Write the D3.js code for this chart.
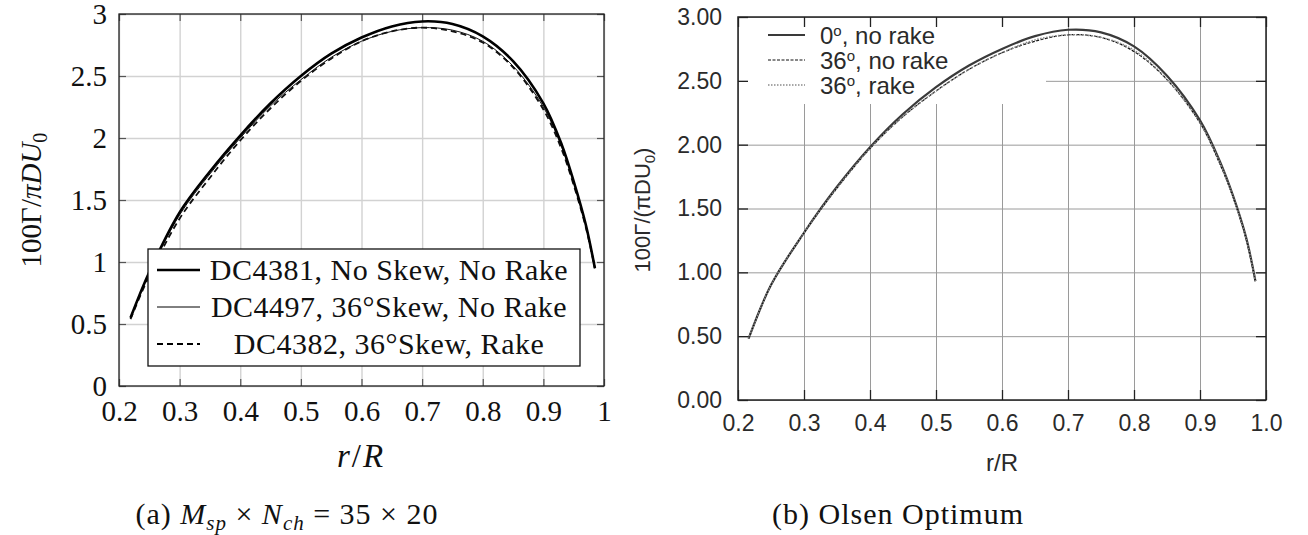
<!DOCTYPE html>
<html>
<head>
<meta charset="utf-8">
<script src="https://cdn.jsdelivr.net/npm/d3@7"></script>
<style>
    body { margin: 0; background: #fff; }
    svg { display: block; }
</style>
</head>
<body>
<svg id="chart" width="1308" height="535"></svg>
<script>
// ---------------- DATA ----------------

// (a) left panel: radial stations and circulation values
const rLeft = [0.219, 0.25, 0.3, 0.35, 0.4, 0.45, 0.5, 0.55, 0.6, 0.65, 0.7, 0.75, 0.8, 0.85, 0.9, 0.93, 0.95, 0.97, 0.985];
const dc4381 = [0.55, 0.92, 1.40, 1.73, 2.02, 2.28, 2.50, 2.68, 2.81, 2.90, 2.94, 2.92, 2.82, 2.62, 2.28, 1.95, 1.65, 1.30, 0.95];
const dc4497 = [0.55, 0.91, 1.38, 1.71, 2.00, 2.26, 2.47, 2.65, 2.78, 2.86, 2.89, 2.87, 2.78, 2.58, 2.25, 1.93, 1.64, 1.30, 0.96];
const dc4382 = [0.54, 0.89, 1.35, 1.68, 1.98, 2.24, 2.46, 2.64, 2.78, 2.86, 2.89, 2.86, 2.77, 2.57, 2.23, 1.91, 1.62, 1.28, 0.95];
const leftNames = ["DC4381, No Skew, No Rake", "DC4497, 36°Skew, No Rake", "DC4382, 36°Skew, Rake"];

// (b) right panel: Olsen optimum
const rRight = [0.216, 0.25, 0.3, 0.35, 0.4, 0.45, 0.5, 0.55, 0.6, 0.65, 0.7, 0.75, 0.8, 0.85, 0.9, 0.93, 0.95, 0.97, 0.984];
const olsen0NoRake = [0.48, 0.90, 1.31, 1.67, 1.98, 2.24, 2.45, 2.62, 2.75, 2.85, 2.90, 2.88, 2.77, 2.54, 2.19, 1.87, 1.60, 1.27, 0.93];
const olsen36NoRake = [0.48, 0.90, 1.31, 1.66, 1.97, 2.22, 2.42, 2.59, 2.72, 2.81, 2.86, 2.84, 2.73, 2.51, 2.17, 1.85, 1.59, 1.26, 0.93];
const olsen36Rake = [0.48, 0.90, 1.31, 1.66, 1.97, 2.22, 2.42, 2.59, 2.72, 2.82, 2.86, 2.84, 2.74, 2.51, 2.17, 1.86, 1.59, 1.26, 0.93];
const rightNames = ["0", "36", "36"];
const rightSuffix = [", no rake", ", no rake", ", rake"];

// tick labels
const xTicks = [0.2, 0.3, 0.4, 0.5, 0.6, 0.7, 0.8, 0.9, 1.0];
const yTicks = [0, 0.5, 1, 1.5, 2, 2.5, 3];
const xTickLabelsLeft = ["0.2", "0.3", "0.4", "0.5", "0.6", "0.7", "0.8", "0.9", "1"];
const yTickLabelsLeft = ["0", "0.5", "1", "1.5", "2", "2.5", "3"];
const xTickLabelsRight = ["0.2", "0.3", "0.4", "0.5", "0.6", "0.7", "0.8", "0.9", "1.0"];
const yTickLabelsRight = ["0.00", "0.50", "1.00", "1.50", "2.00", "2.50", "3.00"];

const svg = d3.select("#chart");
const serif = "'Liberation Serif', 'DejaVu Serif', serif";
const sans = "'Liberation Sans', Arial, sans-serif";

// ---------------- LEFT PANEL (pgfplots style) ----------------
function drawLeft() {
    const x = d3.scaleLinear().domain([0.2, 1]).range([119, 604]);
    const y = d3.scaleLinear().domain([0, 3]).range([386, 14]);
    const g = svg.append("g");
    const h = y(0) - y(3), w = x(1) - x(0.2);

    // grid
    g.append("g").attr("transform", `translate(0,${y(0)})`)
        .call(d3.axisBottom(x).tickValues(xTicks).tickSize(-h).tickFormat(""))
        .call(a => a.select(".domain").remove())
        .selectAll("line").attr("stroke", "#d2d2d2").attr("stroke-width", 1.4);
    g.append("g").attr("transform", `translate(${x(0.2)},0)`)
        .call(d3.axisLeft(y).tickValues(yTicks).tickSize(-w).tickFormat(""))
        .call(a => a.select(".domain").remove())
        .selectAll("line").attr("stroke", "#d2d2d2").attr("stroke-width", 1.4);

    // small inner ticks on all sides
    const tk = 7;
    [[d3.axisBottom(x).tickValues(xTicks).tickSize(-tk), `translate(0,${y(0)})`],
     [d3.axisTop(x).tickValues(xTicks).tickSize(-tk), `translate(0,${y(3)})`],
     [d3.axisLeft(y).tickValues(yTicks).tickSize(-tk), `translate(${x(0.2)},0)`],
     [d3.axisRight(y).tickValues(yTicks).tickSize(-tk), `translate(${x(1)},0)`]].forEach(([ax, tr]) => {
        g.append("g").attr("transform", tr).call(ax.tickFormat(""))
            .call(a => a.select(".domain").remove())
            .selectAll("line").attr("stroke", "#555").attr("stroke-width", 1.2);
    });

    // tick labels
    g.append("g").attr("transform", `translate(0,${y(0)})`)
        .call(d3.axisBottom(x).tickValues(xTicks).tickSize(0).tickPadding(14)
            .tickFormat((d, i) => xTickLabelsLeft[i]))
        .call(a => a.select(".domain").remove())
        .selectAll("text").attr("font-family", serif).attr("font-size", 29).attr("fill", "#111");
    g.append("g").attr("transform", `translate(${x(0.2)},0)`)
        .call(d3.axisLeft(y).tickValues(yTicks).tickSize(0).tickPadding(12)
            .tickFormat((d, i) => yTickLabelsLeft[i]))
        .call(a => a.select(".domain").remove())
        .selectAll("text").attr("font-family", serif).attr("font-size", 29).attr("fill", "#111");

    // curves
    const line = (rs, vs) => d3.line().x((d, i) => x(rs[i])).y(d => y(d))
        .curve(d3.curveCatmullRom.alpha(0.5))(vs);
    g.append("path").attr("d", line(rLeft, dc4382)).attr("fill", "none")
        .attr("stroke", "#111").attr("stroke-width", 1.8).attr("stroke-dasharray", "6,4");
    g.append("path").attr("d", line(rLeft, dc4497)).attr("fill", "none")
        .attr("stroke", "#111").attr("stroke-width", 1);
    g.append("path").attr("d", line(rLeft, dc4381)).attr("fill", "none")
        .attr("stroke", "#000").attr("stroke-width", 2.6);

    // frame
    g.append("rect").attr("x", x(0.2)).attr("y", y(3)).attr("width", w).attr("height", h)
        .attr("fill", "none").attr("stroke", "#222").attr("stroke-width", 1.3);

    // legend
    const lg = g.append("g");
    lg.append("rect").attr("x", 148).attr("y", 249).attr("width", 432).attr("height", 117)
        .attr("fill", "#fff").attr("stroke", "#111").attr("stroke-width", 1.3);
    const styles = [{ sw: 2.6, dash: null }, { sw: 1, dash: null }, { sw: 1.8, dash: "6,4" }];
    leftNames.forEach((name, i) => {
        const yy = 270 + i * 37;
        lg.append("line").attr("x1", 157).attr("x2", 200).attr("y1", yy).attr("y2", yy)
            .attr("stroke", "#000").attr("stroke-width", styles[i].sw)
            .attr("stroke-dasharray", styles[i].dash);
        lg.append("text").attr("x", 389).attr("y", yy + 10).attr("text-anchor", "middle")
            .attr("font-family", serif).attr("font-size", 30).attr("letter-spacing", 0.5)
            .attr("fill", "#111").text(name);
    });

    // axis titles
    const yl = g.append("text").attr("transform", "translate(41,200) rotate(-90)")
        .attr("text-anchor", "middle").attr("font-family", serif).attr("font-size", 29).attr("fill", "#111");
    yl.append("tspan").text("100Γ/");
    yl.append("tspan").attr("font-style", "italic").text("πDU");
    yl.append("tspan").attr("font-size", 20).attr("dy", 6).text("0");

    const xl = g.append("text").attr("x", 361).attr("y", 467).attr("text-anchor", "middle")
        .attr("font-family", serif).attr("font-size", 33).attr("letter-spacing", 2).attr("fill", "#111");
    xl.append("tspan").attr("font-style", "italic").text("r");
    xl.append("tspan").text("/");
    xl.append("tspan").attr("font-style", "italic").text("R");

    // caption
    const cap = g.append("text").attr("x", 287).attr("y", 524).attr("text-anchor", "middle")
        .attr("font-family", serif).attr("font-size", 30).attr("letter-spacing", 1).attr("fill", "#111");
    cap.append("tspan").text("(a) ");
    cap.append("tspan").attr("font-style", "italic").text("M");
    cap.append("tspan").attr("font-style", "italic").attr("font-size", 21).attr("dy", 6).text("sp");
    cap.append("tspan").attr("dy", -6).text(" × ");
    cap.append("tspan").attr("font-style", "italic").text("N");
    cap.append("tspan").attr("font-style", "italic").attr("font-size", 21).attr("dy", 6).text("ch");
    cap.append("tspan").attr("dy", -6).text(" = 35 × 20");
}

// ---------------- RIGHT PANEL (gnuplot style) ----------------
function drawRight() {
    const x = d3.scaleLinear().domain([0.2, 1]).range([738, 1266]);
    const y = d3.scaleLinear().domain([0, 3]).range([400, 17]);
    const g = svg.append("g");
    const h = y(0) - y(3), w = x(1) - x(0.2);

    // grid
    g.append("g").attr("transform", `translate(0,${y(0)})`)
        .call(d3.axisBottom(x).tickValues(xTicks).tickSize(-h).tickFormat(""))
        .call(a => a.select(".domain").remove())
        .selectAll("line").attr("stroke", "#9a9a9a").attr("stroke-width", 1);
    g.append("g").attr("transform", `translate(${x(0.2)},0)`)
        .call(d3.axisLeft(y).tickValues(yTicks).tickSize(-w).tickFormat(""))
        .call(a => a.select(".domain").remove())
        .selectAll("line").attr("stroke", "#9a9a9a").attr("stroke-width", 1);

    // key area blanks the grid
    g.append("rect").attr("x", x(0.2) + 1).attr("y", y(3) + 1).attr("width", 307).attr("height", 86)
        .attr("fill", "#fff");

    // inner ticks, mirrored
    const tk = 10;
    [[d3.axisBottom(x).tickValues(xTicks).tickSize(-tk), `translate(0,${y(0)})`],
     [d3.axisTop(x).tickValues(xTicks).tickSize(-tk), `translate(0,${y(3)})`],
     [d3.axisLeft(y).tickValues(yTicks).tickSize(-tk), `translate(${x(0.2)},0)`],
     [d3.axisRight(y).tickValues(yTicks).tickSize(-tk), `translate(${x(1)},0)`]].forEach(([ax, tr]) => {
        g.append("g").attr("transform", tr).call(ax.tickFormat(""))
            .call(a => a.select(".domain").remove())
            .selectAll("line").attr("stroke", "#222").attr("stroke-width", 1.3);
    });

    // tick labels
    g.append("g").attr("transform", `translate(0,${y(0)})`)
        .call(d3.axisBottom(x).tickValues(xTicks).tickSize(0).tickPadding(15)
            .tickFormat((d, i) => xTickLabelsRight[i]))
        .call(a => a.select(".domain").remove())
        .selectAll("text").attr("font-family", sans).attr("font-size", 23).attr("fill", "#2a2a2a");
    g.append("g").attr("transform", `translate(${x(0.2)},0)`)
        .call(d3.axisLeft(y).tickValues(yTicks).tickSize(0).tickPadding(16)
            .tickFormat((d, i) => yTickLabelsRight[i]))
        .call(a => a.select(".domain").remove())
        .selectAll("text").attr("font-family", sans).attr("font-size", 23).attr("fill", "#2a2a2a");

    // curves
    const line = (rs, vs) => d3.line().x((d, i) => x(rs[i])).y(d => y(d))
        .curve(d3.curveCatmullRom.alpha(0.5))(vs);
    const styles = [
        { data: olsen0NoRake, stroke: "#3a3a3a", sw: 2.2, dash: null },
        { data: olsen36NoRake, stroke: "#111", sw: 1.2, dash: "3,1.5" },
        { data: olsen36Rake, stroke: "#8a8a8a", sw: 1.6, dash: "1.5,1.5" }
    ];
    styles.forEach(s => {
        g.append("path").attr("d", line(rRight, s.data)).attr("fill", "none")
            .attr("stroke", s.stroke).attr("stroke-width", s.sw).attr("stroke-dasharray", s.dash);
    });

    // frame
    g.append("rect").attr("x", x(0.2)).attr("y", y(3)).attr("width", w).attr("height", h)
        .attr("fill", "none").attr("stroke", "#222").attr("stroke-width", 1.5);

    // key
    rightNames.forEach((name, i) => {
        const yy = 35 + i * 25;
        g.append("line").attr("x1", 768).attr("x2", 805).attr("y1", yy).attr("y2", yy)
            .attr("stroke", styles[i].stroke).attr("stroke-width", styles[i].sw)
            .attr("stroke-dasharray", styles[i].dash);
        const t = g.append("text").attr("x", 820).attr("y", yy + 9)
            .attr("font-family", sans).attr("font-size", 24).attr("fill", "#2a2a2a");
        t.append("tspan").text(name);
        t.append("tspan").attr("font-size", 15).attr("dy", -8).text("o");
        t.append("tspan").attr("dy", 8).text(rightSuffix[i]);
    });

    // axis titles
    const yl = g.append("text").attr("transform", "translate(650,210) rotate(-90)")
        .attr("text-anchor", "middle").attr("font-family", sans).attr("font-size", 22).attr("fill", "#2a2a2a");
    yl.append("tspan").text("100Γ/(πDU");
    yl.append("tspan").attr("font-size", 15).attr("dy", 5).text("0");
    yl.append("tspan").attr("dy", -5).text(")");

    g.append("text").attr("x", 1002).attr("y", 471).attr("text-anchor", "middle")
        .attr("font-family", sans).attr("font-size", 24).attr("fill", "#2a2a2a").text("r/R");

    g.append("text").attr("x", 898).attr("y", 524).attr("text-anchor", "middle")
        .attr("font-family", serif).attr("font-size", 30).attr("letter-spacing", 1)
        .attr("fill", "#111").text("(b) Olsen Optimum");
}

drawLeft();
drawRight();
</script>
</body>
</html>
